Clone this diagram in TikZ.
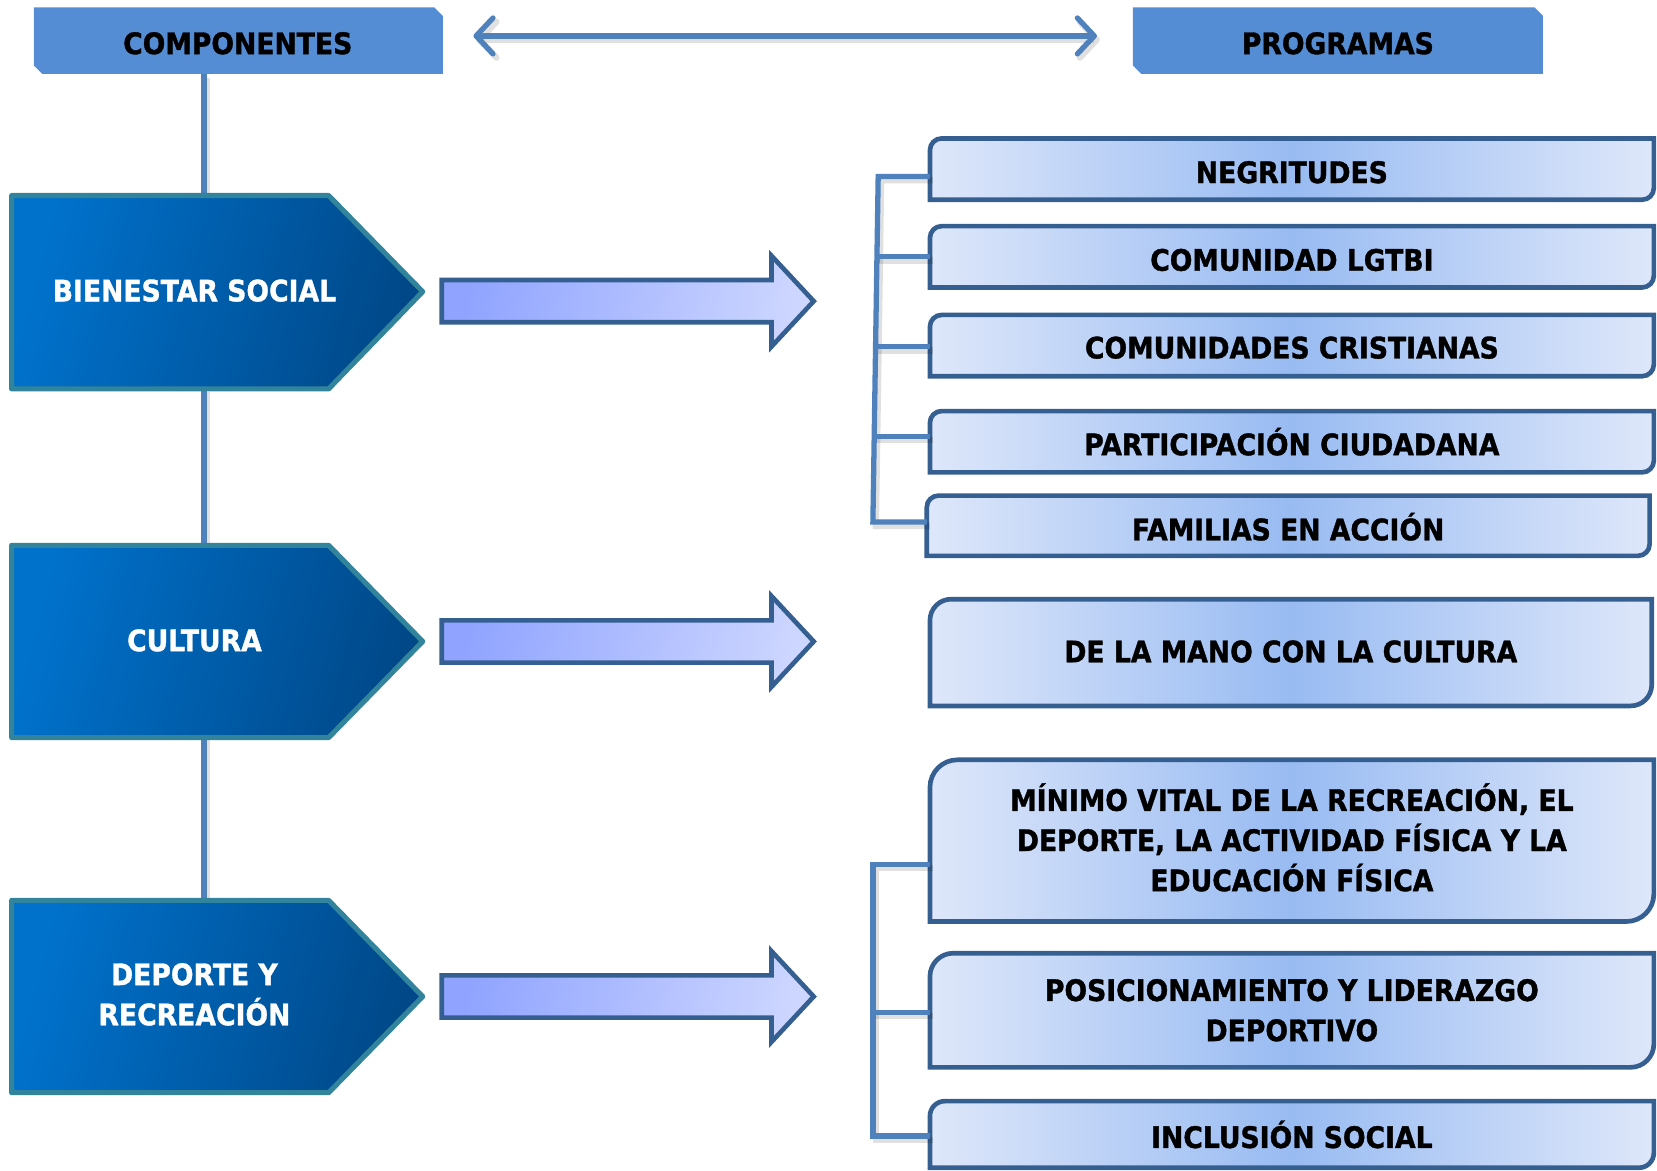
\documentclass[tikz,border=0pt]{standalone}
\usepackage{fontspec}
\setmainfont{DejaVu Sans}[FakeStretch=0.9, BoldFeatures={FakeBold=1.2}]
\usetikzlibrary{arrows.meta,calc}
\definecolor{hdr}{RGB}{84,141,212}
\definecolor{conn}{RGB}{79,129,189}
\definecolor{pentL}{RGB}{0,114,204}
\definecolor{pentR}{RGB}{0,72,136}
\definecolor{pentB}{RGB}{49,132,155}
\definecolor{arrL}{RGB}{143,163,255}
\definecolor{arrR}{RGB}{205,214,255}
\definecolor{darkB}{RGB}{54,95,145}
\definecolor{boxE}{RGB}{222,231,250}
\definecolor{boxM}{RGB}{152,187,242}
\tikzset{
  hdrshape/.style={fill=hdr},
  lbl/.style={font=\bfseries\fontsize{14}{19}\selectfont, align=center, text=black, inner sep=0pt},
  wlbl/.style={lbl, text=white},
  pent/.style={draw=pentB, line width=2.4pt, line join=round, left color=pentL, right color=pentR, shading angle=75},
  barrow/.style={draw=darkB, line width=2.2pt, line join=miter, left color=arrL, right color=arrR, shading angle=80},
  pbox/.style={draw=darkB, line width=2.2pt, left color=boxE, right color=boxE, middle color=boxM},
  shad/.style={preaction={draw=black, opacity=0.12, line width=3pt, transform canvas={shift={(1.4pt,-1.8pt)}}}},
  connline/.style={draw=conn, line width=2.5pt, shad},
  dbl/.style={draw=conn, line width=2.5pt, shad, {Straight Barb[length=8pt,width=17pt,round]}-{Straight Barb[length=8pt,width=17pt,round]}},
  boxanchor/.style={inner sep=0pt, outer sep=0pt},
}
% #1 name, #2 x1, #3 y1, #4 x2, #5 y2, #6 radius, #7 text, #8 text dy
\newcommand{\progbox}[8]{%
  \path[pbox] (#2,#5) -- (#2,{#3+#6}) .. controls (#2,{#3+0.448*#6}) and ({#2+0.448*#6},#3) .. ({#2+#6},#3) -- (#4,#3) -- (#4,{#5-#6}) .. controls (#4,{#5-0.448*#6}) and ({#4-0.448*#6},#5) .. ({#4-#6},#5) -- cycle;
  \node[boxanchor, minimum width={(#4-#2)*0.5pt}, minimum height={(#5-#3)*0.5pt}] (#1) at ({(#2+#4)/2},{(#3+#5)/2}) {};
  \node[lbl] (#1-t) at ({(#2+#4)/2},{(#3+#5)/2+#8}) {#7};
}
% #1 y top, #2 y bottom, #3 y tip
\newcommand{\pentshape}[3]{%
  \path[pent] (11,#1) -- (311,#1) -- (400,#3) -- (311,#2) -- (11,#2) -- cycle;
}
% #1 center y
\newcommand{\blockarrow}[1]{%
  \path[barrow] (418,{#1-20}) -- (730,{#1-20}) -- (730,{#1-43}) -- (770,#1) -- (730,{#1+43}) -- (730,{#1+20}) -- (418,{#1+20}) -- cycle;
}
\begin{document}
\begin{tikzpicture}[x=0.5pt,y=-0.5pt]
\useasboundingbox (0,0) rectangle (1568,1108);

% ---------- headers ----------
\path[hdrshape] (32,7) -- (411,7) -- (419,15) -- (419,70) -- (40,70) -- (32,62) -- cycle;
\node[lbl] (comp) at (225,41) {COMPONENTES};
\path[hdrshape] (1072,7) -- (1452,7) -- (1460,15) -- (1460,70) -- (1080,70) -- (1072,62) -- cycle;
\node[lbl] (prog) at (1266,41) {PROGRAMAS};

\coordinate (dblL) at (448,34);
\coordinate (dblR) at (1038,34);
\draw[dbl] (dblL) -- (dblR);

% ---------- left spine ----------
\coordinate (compS) at (193,70);
\coordinate (bienN) at (193,186);
\coordinate (bienS) at (193,367);
\coordinate (cultN) at (193,517);
\coordinate (cultS) at (193,697);
\coordinate (depN) at (193,853);
\draw[connline] (compS) -- (bienN);
\draw[connline] (bienS) -- (cultN);
\draw[connline] (cultS) -- (depN);

% ---------- components ----------
\pentshape{185}{368}{276}
\node[wlbl] (bien) at (184,275) {BIENESTAR SOCIAL};
\pentshape{516}{698}{607}
\node[wlbl] (cult) at (184,606) {CULTURA};
\pentshape{852}{1034}{943}
\node[wlbl] (dep) at (184,941) {DEPORTE Y\\RECREACIÓN};

% ---------- block arrows ----------
\blockarrow{285}
\blockarrow{607}
\blockarrow{943}

% ---------- brackets ----------
\coordinate (g1a) at (831,167);
\coordinate (g1b) at (829,243);
\coordinate (g1c) at (828,328);
\coordinate (g1d) at (827,413);
\coordinate (g1e) at (826,494);
\coordinate (g2a) at (826,818);
\coordinate (g2b) at (826,958);
\coordinate (g2c) at (826,1075);

% ---------- programs ----------
\progbox{neg}{880}{131}{1565}{189}{11}{NEGRITUDES}{3}
\progbox{lgtbi}{880}{214}{1565}{272}{11}{COMUNIDAD LGTBI}{3}
\progbox{crist}{880}{298}{1565}{356}{11}{COMUNIDADES CRISTIANAS}{2}
\progbox{part}{880}{389}{1565}{447}{11}{PARTICIPACIÓN CIUDADANA}{0}
\progbox{fam}{877}{469}{1561}{526}{11}{FAMILIAS EN ACCIÓN}{1}
\progbox{mano}{880}{567}{1563}{668}{20}{DE LA MANO CON LA CULTURA}{-1}
\progbox{mini}{880}{719}{1565}{872}{26}{MÍNIMO VITAL DE LA RECREACIÓN, EL\\DEPORTE, LA ACTIVIDAD FÍSICA Y LA\\EDUCACIÓN FÍSICA}{-3}
\progbox{pos}{880}{902}{1565}{1010}{22}{POSICIONAMIENTO Y LIDERAZGO\\DEPORTIVO}{0}
\progbox{inc}{880}{1042}{1565}{1105}{14}{INCLUSIÓN SOCIAL}{0}

\draw[connline, line join=miter] (g1a -| neg.west) -- (g1a) -- (g1e) -- (g1e -| fam.west);
\draw[connline] (g1b) -- (g1b -| lgtbi.west);
\draw[connline] (g1c) -- (g1c -| crist.west);
\draw[connline] (g1d) -- (g1d -| part.west);

\draw[connline, line join=miter] (g2a -| mini.west) -- (g2a) -- (g2c) -- (g2c -| inc.west);
\draw[connline] (g2b) -- (g2b -| pos.west);
\end{tikzpicture}
\end{document}
